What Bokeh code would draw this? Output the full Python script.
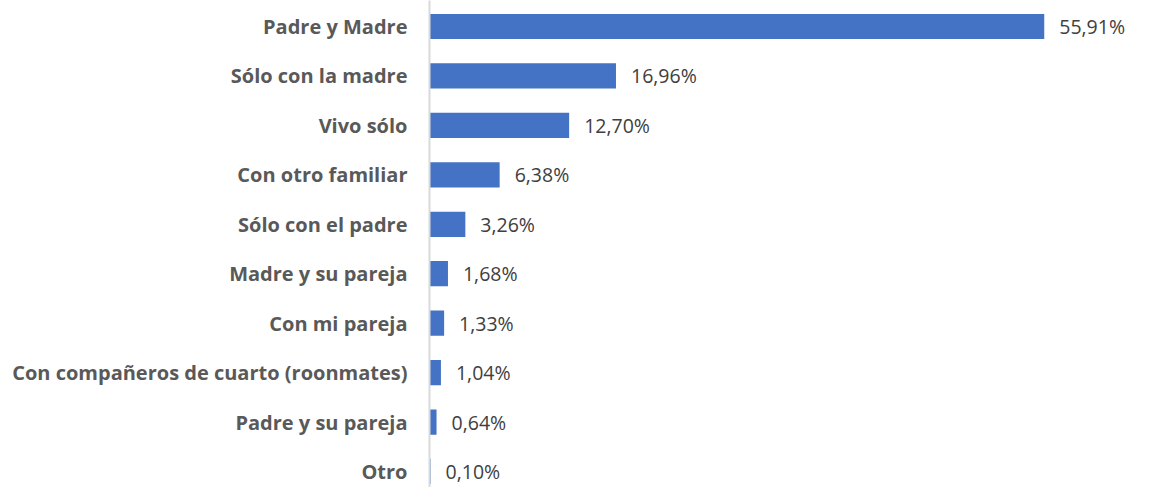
from bokeh.plotting import figure
from bokeh.models import ColumnDataSource, Range1d, FixedTicker
from bokeh.core.properties import value
from bokeh.embed import file_html
from bokeh.resources import INLINE

categories = ["Padre y Madre", "Sólo con la madre", "Vivo sólo", "Con otro familiar",
              "Sólo con el padre", "Madre y su pareja", "Con mi pareja",
              "Con compañeros de cuarto (roonmates)", "Padre y su pareja", "Otro"]
percentages = [55.91, 16.96, 12.70, 6.38, 3.26, 1.68, 1.33, 1.04, 0.64, 0.10]

n = len(categories)
ypos = [n - 1 - i for i in range(n)]
labels = [f"{v:.2f}".replace(".", ",") + "%" for v in percentages]

src = ColumnDataSource(dict(y=ypos, v=percentages, lab=labels))

p = figure(width=1136, height=487, output_backend="svg", toolbar_location=None,
           x_range=Range1d(0, 64.3), y_range=Range1d(-0.324, 9.526),
           min_border_left=429, min_border_right=0, min_border_top=0, min_border_bottom=0)

p.hbar(y="y", right="v", left=0, height=0.51, source=src, color="#4472C4", line_color=None)
p.text(x="v", y="y", text="lab", source=src, x_offset=15, text_baseline="middle",
       text_align="left", text_font=value("Open Sans"), text_font_size="19.5px", text_color="#404040")

p.xaxis.visible = False
p.xgrid.visible = False
p.ygrid.visible = False
p.outline_line_color = None

ya = p.yaxis[0]
ya.ticker = FixedTicker(ticks=ypos)
ya.major_label_overrides = {y: c for y, c in zip(ypos, categories)}
ya.major_tick_line_color = None
ya.minor_tick_line_color = None
ya.axis_line_color = "#D9D9D9"
ya.axis_line_width = 2
ya.major_label_standoff = 16
ya.major_label_text_font = "Open Sans"
ya.major_label_text_font_style = "bold"
ya.major_label_text_font_size = "20px"
ya.major_label_text_color = "#595959"

open("out.html", "w").write(file_html(p, INLINE))
